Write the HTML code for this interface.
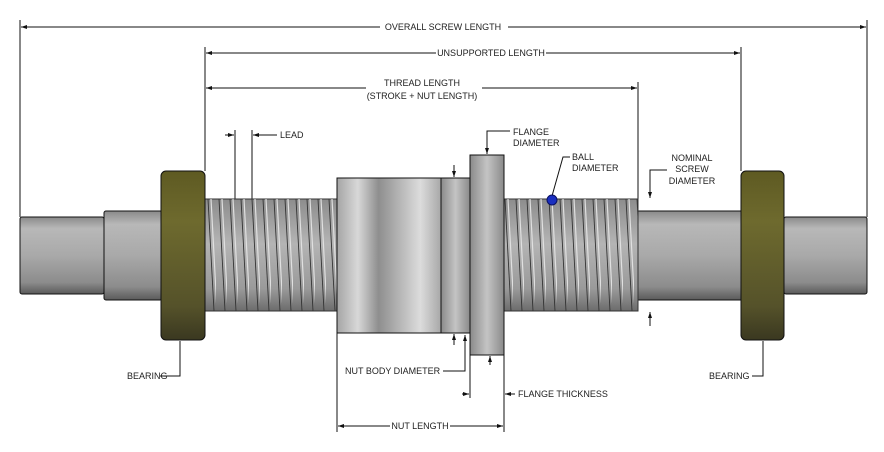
<!DOCTYPE html>
<html><head><meta charset="utf-8"><style>
html,body{margin:0;padding:0;background:#fff;width:884px;height:452px;overflow:hidden}
text{font-family:"Liberation Sans",sans-serif;font-size:9px;fill:#222}
</style></head><body>
<svg width="884" height="452" viewBox="0 0 884 452" xmlns="http://www.w3.org/2000/svg">
<defs>
<linearGradient id="sh" x1="0" y1="0" x2="0" y2="1">
<stop offset="0" stop-color="#8a8a8a"/><stop offset="0.15" stop-color="#b8b8b8"/><stop offset="0.5" stop-color="#a9a9a9"/><stop offset="0.85" stop-color="#8c8c8c"/><stop offset="1" stop-color="#5a5a5a"/></linearGradient>
<linearGradient id="br" x1="0" y1="0" x2="0" y2="1">
<stop offset="0" stop-color="#5e5a22"/><stop offset="0.3" stop-color="#6e6a2e"/><stop offset="0.8" stop-color="#55522a"/><stop offset="1" stop-color="#3a3820"/></linearGradient>
<linearGradient id="th" x1="0" y1="0" x2="0" y2="1">
<stop offset="0" stop-color="#8d8d8d"/><stop offset="0.4" stop-color="#b4b4b4"/><stop offset="0.8" stop-color="#9a9a9a"/><stop offset="1" stop-color="#6c6c6c"/></linearGradient>
<linearGradient id="nut" x1="0" y1="0" x2="1" y2="0">
<stop offset="0" stop-color="#a5a5a5"/><stop offset="0.2" stop-color="#d8d8d8"/><stop offset="0.4" stop-color="#8e8e8e"/><stop offset="0.8" stop-color="#dcdcdc"/><stop offset="1" stop-color="#a8a8a8"/></linearGradient>
<linearGradient id="fl" x1="0" y1="0" x2="1" y2="0">
<stop offset="0" stop-color="#8a8a8a"/><stop offset="0.5" stop-color="#c4c4c4"/><stop offset="1" stop-color="#8a8a8a"/></linearGradient>
<pattern id="thr" width="11" height="112" patternUnits="userSpaceOnUse" x="205" y="199">
<line x1="3" y1="0" x2="9" y2="112" stroke="#333" stroke-width="0.9"/>
<line x1="6" y1="0" x2="12" y2="112" stroke="#e0e0e0" stroke-width="1.2"/>
</pattern>
<pattern id="scal" width="11" height="112" patternUnits="userSpaceOnUse" x="205" y="199">
<ellipse cx="0" cy="0" rx="3.5" ry="4" fill="#fff" stroke="#333" stroke-width="0.8"/>
<ellipse cx="11" cy="0" rx="3.5" ry="4" fill="#fff" stroke="#333" stroke-width="0.8"/>
<ellipse cx="5" cy="112" rx="3.5" ry="4" fill="#fff" stroke="#333" stroke-width="0.8"/>
</pattern>
<marker id="a" viewBox="0 0 6 6" refX="6" refY="3" markerWidth="6" markerHeight="6" orient="auto-start-reverse"><path d="M0,1 L6,3 L0,5z" fill="#111"/></marker>
</defs>
<g stroke="#111" stroke-width="1" fill="none">
<line x1="20" y1="20" x2="20" y2="217"/><line x1="867" y1="20" x2="867" y2="217"/>
<line x1="205" y1="47" x2="205" y2="171"/><line x1="741" y1="47" x2="741" y2="171"/>
<line x1="638" y1="82" x2="638" y2="199"/>
<line x1="337" y1="333" x2="337" y2="432"/><line x1="504" y1="355" x2="504" y2="432"/>
<line x1="470" y1="355" x2="470" y2="398"/>
<line x1="235" y1="130" x2="235" y2="200"/><line x1="252" y1="130" x2="252" y2="200"/>
</g>
<g stroke="#111" stroke-width="1" fill="none">
<line x1="21" y1="27" x2="380" y2="27" marker-start="url(#a)"/><line x1="508" y1="27" x2="866" y2="27" marker-end="url(#a)"/>
<line x1="206" y1="53" x2="436" y2="53" marker-start="url(#a)"/><line x1="546" y1="53" x2="740" y2="53" marker-end="url(#a)"/>
<line x1="206" y1="88" x2="366" y2="88" marker-start="url(#a)"/><line x1="482" y1="88" x2="637" y2="88" marker-end="url(#a)"/>
<line x1="225" y1="135" x2="234" y2="135" marker-end="url(#a)"/><line x1="277" y1="135" x2="253" y2="135" marker-end="url(#a)"/>
<line x1="338" y1="426" x2="390" y2="426" marker-start="url(#a)"/><line x1="450" y1="426" x2="503" y2="426" marker-end="url(#a)"/>
<line x1="462" y1="394" x2="469" y2="394" marker-end="url(#a)"/><line x1="515" y1="394" x2="505" y2="394" marker-end="url(#a)"/>
<polyline points="510,131 487,131 487,154" marker-end="url(#a)"/>
<polyline points="570,157 563,157 552,196"/>
<polyline points="667,170 650,170 650,198" marker-end="url(#a)"/>
<line x1="650" y1="326" x2="650" y2="312" marker-end="url(#a)"/>
<line x1="454" y1="165" x2="454" y2="177" marker-end="url(#a)"/>
<line x1="454" y1="345" x2="454" y2="334" marker-end="url(#a)"/>
<polyline points="443,371 465,371 465,335" marker-end="url(#a)"/>
<line x1="490" y1="365" x2="490" y2="356" marker-end="url(#a)"/>
<polyline points="180,341 180,376 160,376"/>
<polyline points="763,341 763,376 752,376"/>
</g>
<rect x="20" y="217" width="84" height="77" fill="url(#sh)" stroke="#111" rx="2"/>
<rect x="104" y="211" width="58" height="89" fill="url(#sh)" stroke="#111" rx="2"/>
<rect x="784" y="217" width="83" height="77" fill="url(#sh)" stroke="#111" rx="2"/>
<rect x="638" y="211" width="104" height="89" fill="url(#sh)" stroke="#111"/>
<rect x="205" y="199" width="133" height="112" fill="url(#th)" stroke="#333"/>
<rect x="205" y="199" width="133" height="112" fill="url(#thr)"/>
<rect x="504" y="199" width="134" height="112" fill="url(#th)" stroke="#333"/>
<rect x="504" y="199" width="134" height="112" fill="url(#thr)"/>
<rect x="205" y="195" width="133" height="120" fill="url(#scal)" clip-path="none" opacity="1" style="display:none"/>
<rect x="337" y="178" width="104" height="155" fill="url(#nut)" stroke="#111"/>
<rect x="441" y="178" width="29" height="155" fill="url(#fl)" stroke="#111"/>
<rect x="470" y="155" width="34" height="200" fill="url(#fl)" stroke="#111"/>
<rect x="161" y="171" width="44" height="169" rx="5" fill="url(#br)" stroke="#111"/>
<rect x="741" y="171" width="43" height="169" rx="5" fill="url(#br)" stroke="#111"/>
<circle cx="552" cy="200" r="5" fill="#1a2fc0" stroke="#0a1060"/>
<text x="443" y="30" text-anchor="middle">OVERALL SCREW LENGTH</text>
<text x="491" y="56" text-anchor="middle">UNSUPPORTED LENGTH</text>
<text x="422" y="86" text-anchor="middle">THREAD LENGTH</text>
<text x="422" y="99" text-anchor="middle">(STROKE + NUT LENGTH)</text>
<text x="280" y="138">LEAD</text>
<text x="513" y="135">FLANGE</text><text x="513" y="146">DIAMETER</text>
<text x="572" y="160">BALL</text><text x="572" y="171">DIAMETER</text>
<text x="692" y="161" text-anchor="middle">NOMINAL</text><text x="692" y="172" text-anchor="middle">SCREW</text><text x="692" y="184" text-anchor="middle">DIAMETER</text>
<text x="127" y="379">BEARING</text>
<text x="709" y="379">BEARING</text>
<text x="345" y="374">NUT BODY DIAMETER</text>
<text x="518" y="397">FLANGE THICKNESS</text>
<text x="420" y="429" text-anchor="middle">NUT LENGTH</text>
</svg>
</body></html>
